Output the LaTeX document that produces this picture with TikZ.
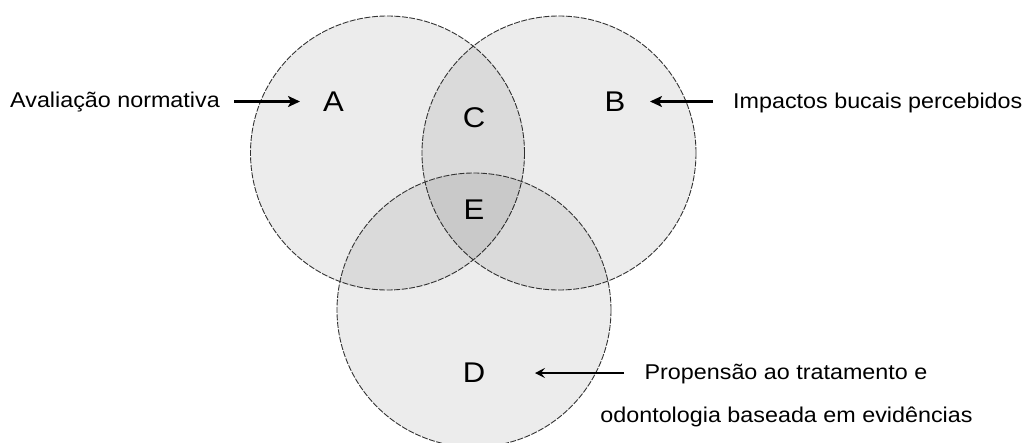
\documentclass[tikz,border=0pt]{standalone}
\usepackage{fontspec}
\newfontfamily\lbl[FakeStretch=1.09]{Liberation Sans}
\usetikzlibrary{arrows.meta}
\definecolor{edge}{gray}{0.2}
\tikzset{
  setcircle/.style={draw=edge, line width=0.9pt, dash pattern=on 6pt off 1.5pt, fill=black, fill opacity=0.075},
  biglabel/.style={font=\lbl\fontsize{28.5}{34}\selectfont, inner sep=0pt, anchor=center},
  txt/.style={font=\lbl\fontsize{21.4}{25}\selectfont, inner sep=0pt},
  thickarrow/.style={line width=2.2pt, -{Stealth[length=12pt,width=11pt,inset=3pt]}},
  thinarrow/.style={line width=1.3pt, -{Stealth[length=10pt,width=10pt,inset=4pt]}}
}
\begin{document}
\begin{tikzpicture}[x=1pt,y=-1pt]
\useasboundingbox (0,0) rectangle (1023,442);
\fill[white] (0,0) rectangle (1023,442);
% circles
\draw[setcircle] (387.5,153) circle[radius=137];
\draw[setcircle] (559,153) circle[radius=137];
\draw[setcircle] (474,310) circle[radius=137];
% region labels
\node[biglabel] (A) at (333.5,102) {A};
\node[biglabel] (B) at (615,102) {B};
\node[biglabel] (C) at (474,117.5) {C};
\node[biglabel] (E) at (474,210) {E};
\node[biglabel] (D) at (474,373) {D};
% texts
\node[txt, anchor=base west] (aval) at (10,107.7) {Avaliação normativa};
\node[txt, anchor=base west] (imp) at (733,108) {Impactos bucais percebidos};
\node[txt, anchor=base] (prop1) at (786,379) {Propensão ao tratamento e};
\node[txt, anchor=base] (prop2) at (786.5,422) {odontologia baseada em evidências};
% arrow end points
\coordinate (a1) at (234,101.5);
\coordinate (a2) at (300,101.5);
\coordinate (b1) at (713,101.5);
\coordinate (b2) at (650,101.5);
\coordinate (d1) at (624,373);
\coordinate (d2) at (535,373);
\draw[thickarrow] (a1) -- (a2);
\draw[thickarrow] (b1) -- (b2);
\draw[thinarrow] (d1) -- (d2);
\end{tikzpicture}
\end{document}
